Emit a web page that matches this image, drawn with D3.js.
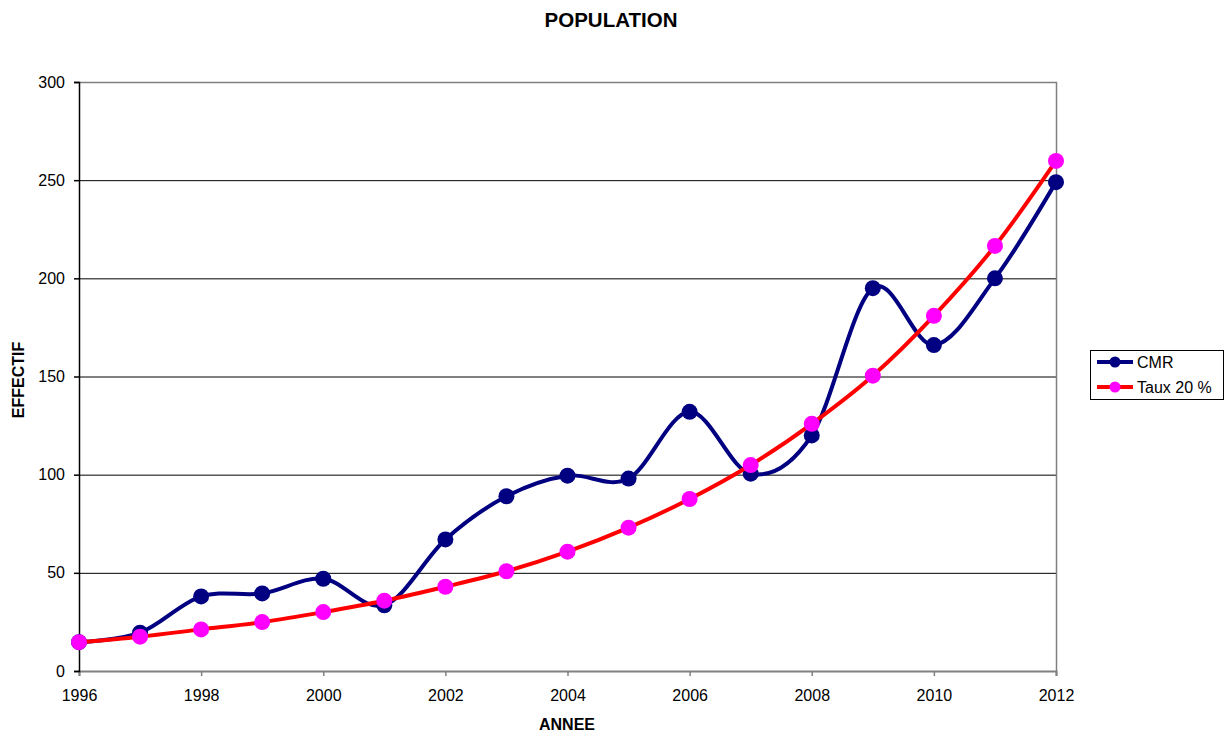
<!DOCTYPE html>
<html>
<head>
<meta charset="utf-8">
<script src="https://cdn.jsdelivr.net/npm/d3@7"></script>
<style>
  body { margin: 0; background: #fff; }
  text { font-family: "Liberation Sans", Arial, sans-serif; }
</style>
</head>
<body>
<svg id="chart" width="1229" height="734"></svg>
<script>
// data
var years = [1996, 1997, 1998, 1999, 2000, 2001, 2002, 2003, 2004, 2005, 2006, 2007, 2008, 2009, 2010, 2011, 2012];
var cmr = [14.7, 19.5, 38, 39.5, 47, 33.5, 67, 89, 99.5, 98, 132, 100.5, 120, 195, 166, 200, 249];
var taux = [14.7, 17.5, 21.2, 24.9, 30, 35.8, 42.9, 50.8, 60.8, 73, 87.6, 104.9, 125.9, 150.4, 180.9, 216.5, 259.8];
var yTicks = [0, 50, 100, 150, 200, 250, 300];
var xTicks = [1996, 1998, 2000, 2002, 2004, 2006, 2008, 2010, 2012];
var seriesNames = ["CMR", "Taux 20 %"];

var svg = d3.select("#chart");
// plot box (note: "top" would clash with window.top)
var plotLeft = 79, plotRight = 1056, plotTop = 82, plotBottom = 671;

var x = d3.scaleLinear().domain([1996, 2012]).range([plotLeft, plotRight]);
var y = d3.scaleLinear().domain([0, 300]).range([plotBottom, plotTop]);

// gridlines
svg.append("g").selectAll("line")
  .data(yTicks.filter(function(d) { return d > 0 && d < 300; }))
  .enter().append("line")
  .attr("x1", plotLeft).attr("x2", plotRight)
  .attr("y1", function(d) { return y(d) + 0.5; })
  .attr("y2", function(d) { return y(d) + 0.5; })
  .attr("stroke", "#000").attr("stroke-width", 1);

// frame top / right
svg.append("path")
  .attr("d", "M" + plotLeft + "," + (plotTop + 0.5) + "H" + (plotRight + 0.5) + "V" + plotBottom)
  .attr("fill", "none").attr("stroke", "#808080").attr("stroke-width", 1.5);

// x axis
var xAxis = svg.append("g")
  .attr("transform", "translate(0," + plotBottom + ")")
  .call(d3.axisBottom(x).tickValues(xTicks).tickFormat(d3.format("d")).tickSize(5).tickPadding(14));
xAxis.select(".domain").attr("stroke", "#808080").attr("stroke-width", 2);
xAxis.selectAll(".tick line").attr("stroke", "#808080").attr("stroke-width", 1.5);
xAxis.selectAll("text").attr("font-size", 16).attr("fill", "#000")
  .style("font-family", "'Liberation Sans', Arial, sans-serif");

// y axis
var yAxis = svg.append("g")
  .attr("transform", "translate(" + plotLeft + ",0)")
  .call(d3.axisLeft(y).tickValues(yTicks).tickSize(5).tickPadding(9));
yAxis.select(".domain").attr("stroke", "#000").attr("stroke-width", 1.5);
yAxis.selectAll(".tick line").attr("stroke", "#000").attr("stroke-width", 1.5);
yAxis.selectAll("text").attr("font-size", 16).attr("fill", "#000")
  .style("font-family", "'Liberation Sans', Arial, sans-serif");

// titles
svg.append("text").attr("x", 611).attr("y", 27).attr("text-anchor", "middle")
  .attr("font-size", 20.5).attr("font-weight", "bold").text("POPULATION");
svg.append("text").attr("x", 567).attr("y", 730).attr("text-anchor", "middle")
  .attr("font-size", 16).attr("font-weight", "bold").text("ANNEE");
svg.append("text").attr("transform", "translate(24,380) rotate(-90)").attr("text-anchor", "middle")
  .attr("font-size", 16).attr("font-weight", "bold").text("EFFECTIF");

// lines
var line = d3.line()
  .x(function(d) { return x(d[0]); })
  .y(function(d) { return y(d[1]); })
  .curve(d3.curveCardinal.tension(0));

var series = [
  { name: seriesNames[0], values: d3.zip(years, cmr), stroke: "#000080", fill: "#000080" },
  { name: seriesNames[1], values: d3.zip(years, taux), stroke: "#ff0000", fill: "#ff00ff" }
];

series.forEach(function(s) {
  svg.append("path").datum(s.values)
    .attr("d", line)
    .attr("fill", "none").attr("stroke", s.stroke).attr("stroke-width", 4);
  svg.append("g").selectAll("circle")
    .data(s.values).enter().append("circle")
    .attr("cx", function(d) { return x(d[0]); })
    .attr("cy", function(d) { return y(d[1]); })
    .attr("r", 8)
    .attr("fill", s.fill);
});

// legend
var legend = svg.append("g");
legend.append("rect").attr("x", 1090.5).attr("y", 350.5).attr("width", 133).attr("height", 49)
  .attr("fill", "#fff").attr("stroke", "#000").attr("stroke-width", 1);
series.forEach(function(s, i) {
  var ly = 362 + i * 25;
  legend.append("line").attr("x1", 1097).attr("x2", 1133).attr("y1", ly).attr("y2", ly)
    .attr("stroke", s.stroke).attr("stroke-width", 4);
  legend.append("circle").attr("cx", 1115).attr("cy", ly).attr("r", 5.5).attr("fill", s.fill);
  legend.append("text").attr("x", 1137).attr("y", ly + 6).attr("font-size", 16).text(s.name);
});
</script>
</body>
</html>
